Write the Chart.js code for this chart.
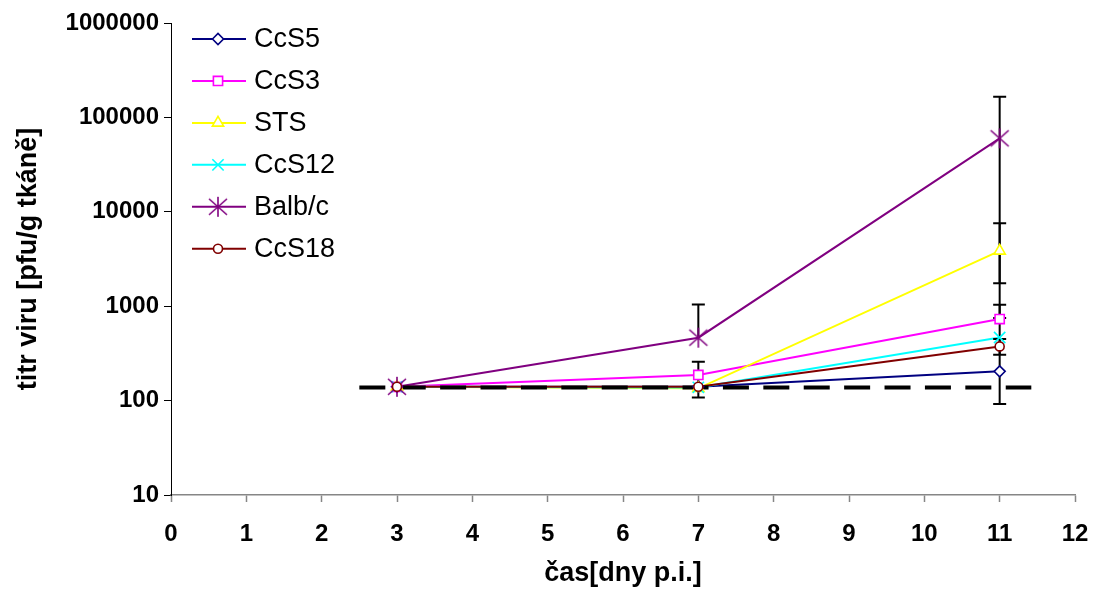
<!DOCTYPE html>
<html>
<head>
<meta charset="utf-8">
<title>titr viru</title>
<script src="https://cdn.jsdelivr.net/npm/chart.js"></script>
<style>
  html, body { margin: 0; padding: 0; background: #ffffff; }
  #wrap { width: 1094px; height: 590px; }
</style>
</head>
<body>
<div id="wrap"><canvas id="chart" width="1094" height="590"></canvas></div>
<script>
// data
const days = [3, 7, 11];
const seriesNames = ['CcS5', 'CcS3', 'STS', 'CcS12', 'Balb/c', 'CcS18'];
const ccs5 = [140, 140, 204];
const ccs3 = [140, 187, 731];
const sts = [140, 135, 3855];
const ccs12 = [140, 138, 466];
const balbc = [140, 464, 60000];
const ccs18 = [140, 140, 375];

// error bars [low, high] per day (null = none)
const ccs5Err = [null, null, [92, 449]];
const ccs3Err = [null, [108, 258], [306, 1035]];
const stsErr = [null, null, [751, 7550]];
const ccs12Err = [null, null, null];
const balbcErr = [null, [null, 1040], [1750, 165000]];
const ccs18Err = [null, null, null];

// dashed detection limit
const limitValue = 138;
const limitDays = [2.5, 11.42];

const xTicks = [0, 1, 2, 3, 4, 5, 6, 7, 8, 9, 10, 11, 12];
const yTicks = [10, 100, 1000, 10000, 100000, 1000000];

// star marker for Balb/c (x with a vertical stroke)
function makeStar(color) {
    const c = document.createElement('canvas');
    c.width = 22; c.height = 22;
    const g = c.getContext('2d');
    g.strokeStyle = color;
    g.lineWidth = 1.6;
    g.beginPath();
    g.moveTo(2, 3); g.lineTo(20, 19);
    g.moveTo(20, 3); g.lineTo(2, 19);
    g.moveTo(11, 1); g.lineTo(11, 21);
    g.stroke();
    return c;
}

const series = [
    { name: seriesNames[0], values: ccs5, err: ccs5Err, color: '#000080', style: 'rectRot', radius: 5.5 },
    { name: seriesNames[1], values: ccs3, err: ccs3Err, color: '#FF00FF', style: 'rect', radius: 6.5 },
    { name: seriesNames[2], values: sts, err: stsErr, color: '#FFFF00', style: 'triangle', radius: 6.5 },
    { name: seriesNames[3], values: ccs12, err: ccs12Err, color: '#00FFFF', style: 'crossRot', radius: 8 },
    { name: seriesNames[4], values: balbc, err: balbcErr, color: '#800080', style: makeStar('#800080'), radius: 10 },
    { name: seriesNames[5], values: ccs18, err: ccs18Err, color: '#800000', style: 'circle', radius: 4.5 }
];

const toPoints = vals => days.map((d, i) => ({ x: d, y: vals[i] }));

const datasets = [];
// markers on top
series.forEach((s, i) => {
    datasets.push({
        label: s.name,
        data: toPoints(s.values),
        showLine: false,
        pointStyle: s.style,
        pointRadius: s.radius,
        pointBorderColor: s.color,
        pointBackgroundColor: '#ffffff',
        pointBorderWidth: 1.6,
        order: 1 + (series.length - 1 - i) / 10
    });
});
// dashed limit line
datasets.push({
    label: 'limit',
    id: 'limit',
    data: limitDays.map(d => ({ x: d, y: limitValue })),
    borderColor: '#000000',
    borderWidth: 4,
    borderDash: [26, 14.4],
    pointRadius: 0,
    order: 2
});
// lines below
series.forEach((s, i) => {
    datasets.push({
        label: s.name + ' line',
        data: toPoints(s.values),
        borderColor: s.color,
        borderWidth: 2,
        pointRadius: 0,
        tension: 0,
        order: 3 + (series.length - 1 - i) / 10
    });
});

const errorBars = {
    id: 'errorBars',
    afterDatasetDraw(chart, args) {
        if (chart.data.datasets[args.index].id !== 'limit') return;
        const ctx = chart.ctx;
        const xs = chart.scales.x, ys = chart.scales.y;
        ctx.save();
        ctx.strokeStyle = '#000000';
        ctx.lineWidth = 2;
        series.forEach(s => {
            s.err.forEach((e, i) => {
                if (!e) return;
                const x = xs.getPixelForValue(days[i]);
                const yv = ys.getPixelForValue(s.values[i]);
                const yLo = e[0] != null ? ys.getPixelForValue(e[0]) : yv;
                const yHi = e[1] != null ? ys.getPixelForValue(e[1]) : yv;
                ctx.beginPath();
                ctx.moveTo(x, yHi); ctx.lineTo(x, yLo);
                if (e[0] != null) { ctx.moveTo(x - 6.5, yLo); ctx.lineTo(x + 6.5, yLo); }
                if (e[1] != null) { ctx.moveTo(x - 6.5, yHi); ctx.lineTo(x + 6.5, yHi); }
                ctx.stroke();
            });
        });
        ctx.restore();
    }
};

const legendBox = {
    id: 'legendBox',
    afterDraw(chart) {
        const ctx = chart.ctx;
        ctx.save();
        ctx.font = '27px "Liberation Sans", Arial, sans-serif';
        ctx.textBaseline = 'middle';
        ctx.textAlign = 'left';
        series.forEach((s, i) => {
            const y = 39 + i * 41.95;
            ctx.strokeStyle = s.color;
            ctx.lineWidth = 2;
            ctx.beginPath();
            ctx.moveTo(192, y); ctx.lineTo(246, y);
            ctx.stroke();
            ctx.fillStyle = '#ffffff';
            ctx.lineWidth = 1.6;
            Chart.helpers.drawPoint(ctx, { pointStyle: s.style, radius: s.radius, rotation: 0, borderWidth: 1.6 }, 218, y);
            ctx.fillStyle = '#000000';
            ctx.fillText(s.name, 254, y + 1);
        });
        ctx.restore();
    }
};

const tickFont = { family: '"Liberation Sans", Arial, sans-serif', size: 24, weight: 'bold' };
const titleFont = { family: '"Liberation Sans", Arial, sans-serif', size: 27, weight: 'bold' };

new Chart(document.getElementById('chart').getContext('2d'), {
    type: 'line',
    data: { datasets: datasets },
    options: {
        responsive: false,
        animation: false,
        layout: { padding: { left: 0, right: 19, top: 23, bottom: 0 } },
        plugins: { legend: { display: false }, tooltip: { enabled: false } },
        scales: {
            x: {
                type: 'linear',
                min: 0,
                max: 12,
                afterBuildTicks: scale => { scale.ticks = xTicks.map(v => ({ value: v })); },
                afterFit: scale => { scale.height = 95; scale.paddingLeft = 0; scale.paddingRight = 0; },
                ticks: { color: '#000000', font: tickFont, padding: 18, maxRotation: 0, autoSkip: false },
                grid: { drawOnChartArea: false, tickLength: 7, color: '#868686', tickWidth: 1.5 },
                border: { color: '#868686', width: 1.5 },
                title: { display: true, text: 'čas[dny p.i.]', color: '#000000', font: titleFont, padding: { top: 0, bottom: 0 } }
            },
            y: {
                type: 'logarithmic',
                min: 10,
                max: 1000000,
                afterBuildTicks: scale => { scale.ticks = yTicks.map(v => ({ value: v })); },
                afterFit: scale => { scale.width = 171; scale.paddingTop = 0; scale.paddingBottom = 0; },
                ticks: { color: '#000000', font: tickFont, padding: 5, autoSkip: false, callback: v => String(v) },
                grid: { drawOnChartArea: false, tickLength: 7, color: '#000000' },
                border: { color: '#000000', width: 1 },
                title: { display: true, text: 'titr viru [pfu/g tkáně]', color: '#000000', font: titleFont, padding: { top: 12, bottom: 0 } }
            }
        }
    },
    plugins: [errorBars, legendBox]
});
</script>
</body>
</html>
